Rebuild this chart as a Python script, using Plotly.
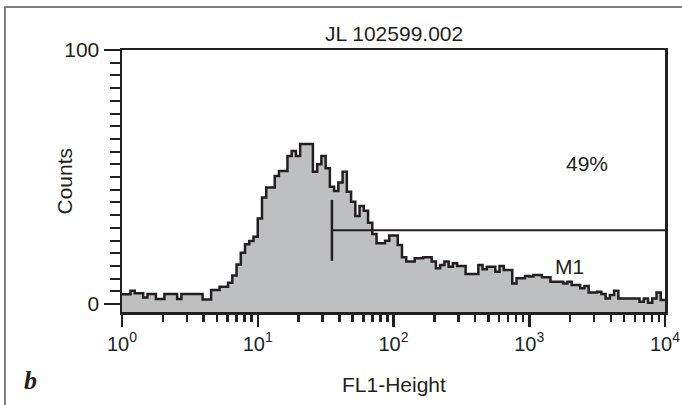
import math
import plotly.graph_objects as go

# ---------------- data ----------------
title_text = "JL 102599.002"
x_label = "FL1-Height"
y_label = "Counts"
panel_letter = "b"

n_bins = 128            # channel bins spanning 4 log decades
decades = 4
counts = [3.8, 3.8, 5.2, 4.2, 4.2, 2.6, 3.9, 3.9, 2.0, 2.0,
          3.9, 3.9, 3.9, 2.0, 3.9, 3.9, 3.9, 3.9, 3.9, 1.8,
          1.8, 5.5, 5.5, 6.8, 6.8, 8.4, 11.2, 15.6, 20.2, 23.5,
          24.8, 26.5, 33.7, 41.9, 45.9, 45.9, 50.4, 52.4, 52.4, 58.3,
          60.2, 58.3, 63.0, 63.0, 63.0, 52.1, 55.0, 58.3, 53.4, 46.2,
          44.5, 47.8, 52.1, 44.2, 40.3, 34.6, 38.6, 36.7, 32.0, 27.6,
          23.9, 23.9, 24.9, 27.0, 27.0, 23.2, 18.4, 16.7, 16.7, 18.0,
          18.0, 18.4, 18.4, 16.7, 14.1, 15.4, 16.7, 14.7, 16.0, 15.0,
          15.0, 11.8, 11.8, 11.8, 15.4, 13.7, 14.7, 14.7, 12.7, 15.0,
          13.4, 13.4, 8.1, 10.1, 10.1, 11.0, 10.8, 11.4, 11.4, 10.5,
          10.5, 8.8, 8.8, 8.8, 8.1, 8.8, 7.5, 7.5, 6.2, 7.1,
          4.5, 4.5, 4.8, 3.9, 2.2, 3.5, 5.2, 2.2, 2.2, 2.2,
          2.2, 2.2, 0.9, 2.2, 0.5, 2.2, 4.5, 1.6]

# M1 marker gate
m1_start = 35.2
m1_end = 10000
m1_level = 29
m1_half_height = 12
m1_label = "M1"
m1_label_pos = (1995, 14.7)
pct_label = "49%"
pct_label_pos = (2650, 55.4)

x_tickvals = [1, 10, 100, 1000, 10000]
x_ticktext = ["10<sup>0</sup>", "10<sup>1</sup>", "10<sup>2</sup>",
              "10<sup>3</sup>", "10<sup>4</sup>"]
x_minor = [m * 10 ** d for d in range(4) for m in range(2, 10)]
y_tickvals = [0, 100]
y_ticktext = ["0", "100"]
y_minor = list(range(5, 100, 5))
y_range = [-3.15, 100]

# ---------------- figure ----------------
edges = [10 ** (decades * i / n_bins) for i in range(n_bins + 1)]
ink = "#231f20"
font_family = "Liberation Sans, Arial, Helvetica, sans-serif"
fs = 21

fig = go.Figure()
fig.add_trace(go.Scatter(x=[edges[0], edges[-1]], y=[y_range[0], y_range[0]],
                         mode="lines", line=dict(width=0), hoverinfo="skip",
                         showlegend=False))
fig.add_trace(go.Scatter(x=edges, y=counts + [counts[-1]], mode="lines",
                         line=dict(shape="hv", color=ink, width=2.5),
                         fill="tonexty", fillcolor="#bebfc1", showlegend=False))
fig.add_trace(go.Scatter(x=[m1_start, m1_end], y=[m1_level, m1_level], mode="lines",
                         line=dict(color=ink, width=2), showlegend=False))
fig.add_trace(go.Scatter(x=[m1_start, m1_start],
                         y=[m1_level - m1_half_height, m1_level + m1_half_height],
                         mode="lines", line=dict(color=ink, width=2.5), showlegend=False))

fig.add_annotation(x=math.log10(m1_label_pos[0]), y=m1_label_pos[1],
                   xref="x", yref="y", text=m1_label, showarrow=False,
                   font=dict(size=fs, color=ink))
fig.add_annotation(x=math.log10(pct_label_pos[0]), y=pct_label_pos[1],
                   xref="x", yref="y", text=pct_label, showarrow=False,
                   font=dict(size=fs, color=ink))

fig.add_annotation(x=0.5, y=1, xref="paper", yref="paper", yanchor="middle",
                   yshift=17, text=title_text, showarrow=False,
                   font=dict(size=fs, color=ink))
fig.add_annotation(x=0, y=0.5, xref="paper", yref="paper", xshift=-72,
                   textangle=-90, text=y_label, showarrow=False,
                   font=dict(size=fs, color=ink))
fig.add_annotation(x=0.5, y=0, xref="paper", yref="paper", yshift=-72,
                   yanchor="middle", text=x_label, showarrow=False,
                   font=dict(size=fs, color=ink))
fig.add_annotation(x=0, y=0, xref="paper", yref="paper", xshift=-100, yshift=-68,
                   yanchor="middle", text="<b><i>" + panel_letter + "</i></b>",
                   showarrow=False,
                   font=dict(size=26, color=ink, family="Liberation Serif, Times New Roman, serif"))

# outer panel frame, cropped by the figure's right and bottom edges
fig.add_shape(type="rect", xref="paper", yref="paper",
              x0=-0.2155, x1=1.06, y0=1.164, y1=-0.45,
              line=dict(color="#555555", width=1.5), fillcolor="rgba(0,0,0,0)")

fig.update_xaxes(type="log", range=[0, 4], tickmode="array", tickvals=x_tickvals,
                 ticktext=x_ticktext, ticks="outside", ticklen=12, tickwidth=2.5,
                 tickcolor=ink, showline=True, linecolor=ink, linewidth=2.5, mirror=True,
                 showgrid=False, zeroline=False, automargin=False,
                 ticklabeloverflow="allow",
                 tickfont=dict(size=20, color=ink),
                 minor=dict(tickmode="array", tickvals=x_minor, ticks="outside",
                            ticklen=7, tickwidth=2.5, tickcolor=ink, showgrid=False))
fig.update_yaxes(range=y_range, tickmode="array", tickvals=y_tickvals,
                 ticktext=y_ticktext, ticks="outside", ticklen=16, tickwidth=2,
                 tickcolor=ink, showline=True, linecolor=ink, linewidth=2.5, mirror=True,
                 showgrid=False, zeroline=False, automargin=False,
                 tickfont=dict(size=fs, color=ink),
                 minor=dict(tickmode="array", tickvals=y_minor, ticks="outside",
                            ticklen=10, tickwidth=2, tickcolor=ink, showgrid=False))

fig.update_layout(width=682, height=405,
                  margin=dict(l=122, r=17, t=50, b=93),
                  paper_bgcolor="white", plot_bgcolor="white",
                  font=dict(family=font_family, color=ink),
                  showlegend=False, hovermode=False)

fig.write_html("out.html",
               config={"displayModeBar": False, "staticPlot": True},
               post_script="document.body.style.margin='0';"
                           "document.body.style.overflow='hidden';")
